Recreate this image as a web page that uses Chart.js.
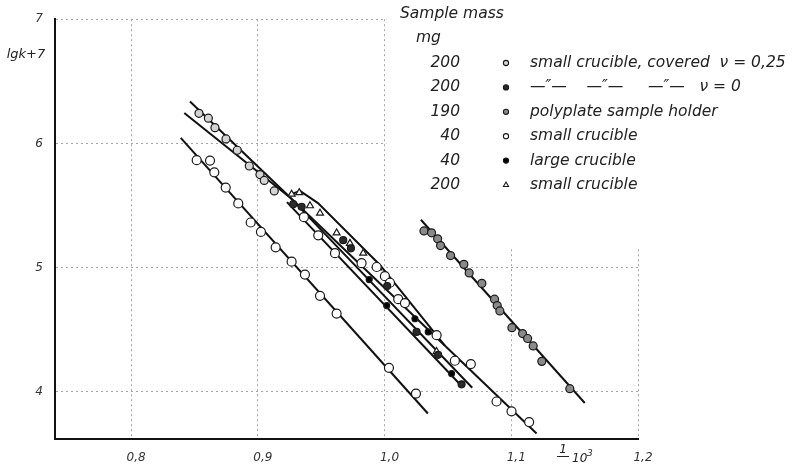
<!DOCTYPE html>
<html>
<head>
<meta charset="utf-8">
<script src="https://cdn.jsdelivr.net/npm/chart.js@4.4.0/dist/chart.umd.min.js"></script>
<style>
  html, body { margin: 0; padding: 0; background: #fff; }
  #wrap { width: 797px; height: 467px; }
</style>
</head>
<body>
<div id="wrap"><canvas id="rateChart" width="797" height="467"></canvas></div>
<script>
// axis ticks
const xTicks = [0.8, 0.9, 1.0, 1.1, 1.2];
const yTicks = [4, 5, 6, 7];

// legend table (sample mass in mg, description)
const sampleMass = ['200', '200', '190', '40', '40', '200'];
const sampleText = [
    'small crucible, covered  \u03bd = 0,25',
    '\u2014\u2033\u2014    \u2014\u2033\u2014     \u2014\u2033\u2014   \u03bd = 0',
    'polyplate sample holder',
    'small crucible',
    'large crucible',
    'small crucible'
];

// measured points: [1/T * 10^3, lgk + 7]
const covered025 = [
    [0.8536, 6.242], [0.8610, 6.203], [0.8662, 6.127], [0.8749, 6.036], [0.8838, 5.945],
    [0.8933, 5.818], [0.9017, 5.749], [0.9051, 5.702], [0.9130, 5.617]
];
const covered0 = [
    [0.9280, 5.511], [0.9346, 5.490], [0.9674, 5.221], [0.9735, 5.155], [1.0021, 4.852],
    [1.0253, 4.482], [1.0423, 4.298], [1.0608, 4.060]
];
const polyplate = [
    [1.0311, 5.295], [1.0371, 5.280], [1.0419, 5.232], [1.0442, 5.177], [1.0521, 5.097],
    [1.0626, 5.026], [1.0668, 4.957], [1.0768, 4.873], [1.0868, 4.746], [1.0889, 4.694],
    [1.0910, 4.651], [1.1005, 4.516], [1.1089, 4.469], [1.1129, 4.429], [1.1173, 4.369],
    [1.1241, 4.245], [1.1462, 4.025]
];
const smallCrucible40 = [
    [0.8518, 5.865], [0.8623, 5.862], [0.8657, 5.767], [0.8747, 5.644], [0.8846, 5.517],
    [0.8944, 5.363], [0.9025, 5.287], [0.9141, 5.163], [0.9267, 5.048], [0.9372, 4.944],
    [0.9491, 4.773], [0.9622, 4.630], [1.0035, 4.193], [1.0248, 3.986],
    [0.9364, 5.406], [0.9477, 5.260], [0.9609, 5.116], [0.9819, 5.036], [0.9938, 5.005],
    [1.0003, 4.931], [1.0043, 4.878], [1.0108, 4.746], [1.0161, 4.714], [1.0411, 4.456],
    [1.0555, 4.250], [1.0681, 4.223], [1.0884, 3.922], [1.1002, 3.843], [1.1141, 3.756]
];
const largeCrucible40 = [
    [0.9879, 4.904], [1.0017, 4.694], [1.0240, 4.588], [1.0345, 4.482], [1.0529, 4.147]
];
const smallCrucible200 = [
    [0.9267, 5.591], [0.9327, 5.604], [0.9412, 5.498], [0.9491, 5.438], [0.9622, 5.280],
    [0.9727, 5.195], [0.9832, 5.116], [0.9950, 4.997], [1.0411, 4.324]
];

// straight lines drawn through the points
const fitA = [[0.8392, 6.044], [1.0342, 3.825]];
const fitM1 = [[0.8465, 6.337], [1.1200, 3.664]];
const fitM2 = [[0.8420, 6.245], [0.9254, 5.565], [1.0692, 4.033]];
const fitM3 = [[0.9230, 5.527], [1.0608, 4.047]];
const fitH = [[0.9246, 5.583], [0.9333, 5.618], [0.9475, 5.519], [0.9964, 5.021], [1.0476, 4.371]];
const fitR = [[1.0287, 5.385], [1.1580, 3.910]];

const toXY = arr => arr.map(([x, y]) => ({ x, y }));
const FONT = '"DejaVu Sans", sans-serif';

function pointSet(label, data, style, radius, fill, border) {
    return {
        label: label,
        data: toXY(data),
        pointStyle: style,
        pointRadius: radius,
        pointBackgroundColor: fill,
        pointBorderColor: border || '#1a1a1a',
        pointBorderWidth: 1.2,
        showLine: false
    };
}

function lineSet(data) {
    return {
        data: toXY(data),
        showLine: true,
        borderColor: '#111',
        borderWidth: 2,
        pointRadius: 0,
        fill: false
    };
}

const markerSets = [
    pointSet('covered025', covered025, 'circle', 4, '#d4d4d4'),
    pointSet('covered0', covered0, 'circle', 3.5, '#2a2a2a'),
    pointSet('polyplate', polyplate, 'circle', 4, '#8a8a8a'),
    pointSet('small40', smallCrucible40, 'circle', 4.5, '#ffffff'),
    pointSet('large40', largeCrucible40, 'circle', 3, '#000000'),
    pointSet('small200', smallCrucible200, 'triangle', 4, '#ffffff')
];

const lineSets = [fitA, fitM1, fitM2, fitM3, fitH, fitR].map(lineSet);

// white paper behind the legend table, then all the texts
const paperPlugin = {
    id: 'paper',
    beforeDatasetsDraw(chart) {
        const { ctx, scales: { x, y } } = chart;
        const left = x.getPixelForValue(1.0) + 2;
        const bottom = y.getPixelForValue(5.15);
        ctx.save();
        ctx.fillStyle = '#fff';
        ctx.fillRect(left, 0, chart.width - left, bottom);
        ctx.restore();
    },
    afterDraw(chart) {
        const ctx = chart.ctx;
        ctx.save();
        ctx.fillStyle = '#222';
        ctx.textBaseline = 'middle';

        // y title
        ctx.font = 'italic 13px ' + FONT;
        ctx.textAlign = 'center';
        ctx.fillText('lgk+7', 26, 55);

        // x title: 1/T · 10^3
        ctx.font = 'italic 12px ' + FONT;
        ctx.fillText('1', 563, 450);
        ctx.strokeStyle = '#222';
        ctx.lineWidth = 1;
        ctx.beginPath();
        ctx.moveTo(557, 456.5);
        ctx.lineTo(569, 456.5);
        ctx.stroke();
        ctx.textAlign = 'left';
        ctx.fillText('10', 572, 459);
        ctx.font = 'italic 9px ' + FONT;
        ctx.fillText('3', 587, 454);

        // legend table
        ctx.font = 'italic 15.5px ' + FONT;
        ctx.textAlign = 'left';
        ctx.fillText('Sample mass', 400, 14);
        ctx.fillText('mg', 416, 38);
        sampleMass.forEach((m, i) => {
            const yRow = 63 + i * 24.4;
            ctx.textAlign = 'right';
            ctx.fillText(m, 460, yRow);
            ctx.textAlign = 'left';
            ctx.fillText(sampleText[i], 530, yRow);
            const ds = markerSets[i];
            ctx.fillStyle = ds.pointBackgroundColor;
            ctx.strokeStyle = ds.pointBorderColor;
            ctx.lineWidth = 1.1;
            Chart.helpers.drawPoint(ctx, {
                pointStyle: ds.pointStyle,
                radius: ds.pointStyle === 'triangle' ? 3 : 2.6,
                borderWidth: 1.1,
                rotation: 0
            }, 506, yRow);
            ctx.fillStyle = '#222';
        });
        ctx.restore();
    }
};

const tickFont = { family: FONT, size: 12, style: 'italic' };

new Chart(document.getElementById('rateChart'), {
    type: 'scatter',
    data: { datasets: markerSets.concat(lineSets) },
    options: {
        responsive: false,
        animation: false,
        layout: { padding: { top: 12, right: 159, left: 0, bottom: 0 } },
        plugins: {
            legend: { display: false },
            tooltip: { enabled: false }
        },
        scales: {
            x: {
                type: 'linear',
                min: 0.74,
                max: 1.2,
                afterBuildTicks: s => { s.ticks = xTicks.map(v => ({ value: v })); },
                afterFit: s => { s.height = 28; },
                grid: { color: '#a5a5a5', lineWidth: 1, drawTicks: false },
                border: { display: true, color: '#111', width: 2, dash: [2, 3] },
                ticks: {
                    padding: 12,
                    color: '#333',
                    font: tickFont,
                    labelOffset: 5,
                    maxRotation: 0,
                    callback: v => v.toFixed(1).replace('.', ',')
                }
            },
            y: {
                type: 'linear',
                min: 3.62,
                max: 7,
                afterBuildTicks: s => { s.ticks = yTicks.map(v => ({ value: v })); },
                afterFit: s => { s.width = 55; },
                grid: { color: '#a5a5a5', lineWidth: 1, drawTicks: false },
                border: { display: true, color: '#111', width: 2, dash: [2, 3] },
                ticks: {
                    padding: 12,
                    color: '#333',
                    font: tickFont,
                    callback: v => String(v)
                }
            }
        }
    },
    plugins: [paperPlugin]
});
</script>
</body>
</html>
